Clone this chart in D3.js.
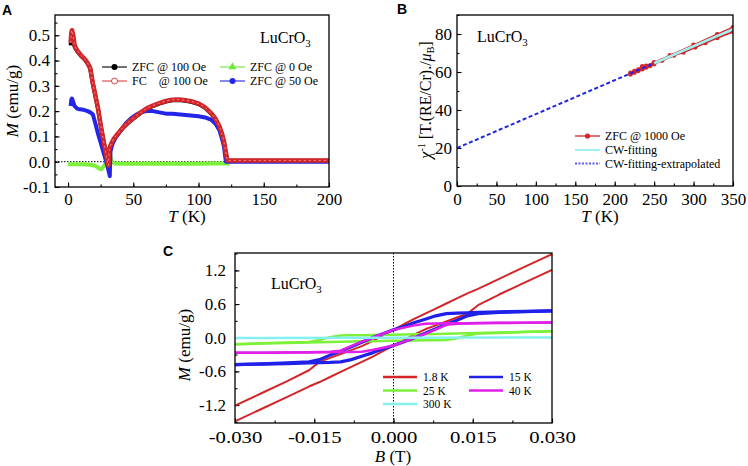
<!DOCTYPE html>
<html><head><meta charset="utf-8">
<script src="https://cdn.jsdelivr.net/npm/d3@7"></script>
<style>
body{margin:0;background:#fff}
svg{display:block}
text{fill:#000}
</style>
</head><body>
<svg id="c" width="748" height="466" font-family="'Liberation Serif','Times New Roman',serif"></svg>
<script>
// ---------- Panel A data (M vs T) ----------
const fcT   = [2,2.5,3,4,5,7,10,13,15,17,19,21,23,25,27,29,30,31,31.5,33,35,38,42,46,50,55,60,65,70,75,80,85,90,95,100,105,110,113,116,118,119.5,120.5,121.5,122,125,140,160,180,200];
const fcM   = [0.47,0.51,0.52,0.50,0.46,0.44,0.42,0.405,0.39,0.37,0.31,0.26,0.21,0.145,0.088,0.035,0.005,-0.015,0.05,0.07,0.09,0.11,0.135,0.155,0.172,0.192,0.21,0.222,0.232,0.24,0.245,0.246,0.243,0.238,0.23,0.215,0.19,0.17,0.14,0.11,0.08,0.05,0.02,0.005,0.005,0.005,0.005,0.005,0.005];
const zfc100M = [0.46,0.50,0.51,0.49,0.455,0.437,0.418,0.403,0.388,0.368,0.308,0.258,0.208,0.143,0.086,0.033,0.003,-0.017,0.048,0.068,0.088,0.108,0.133,0.153,0.17,0.19,0.208,0.22,0.23,0.238,0.243,0.244,0.241,0.236,0.228,0.213,0.188,0.168,0.138,0.108,0.078,0.048,0.018,0.004,0.004,0.004,0.004,0.004,0.004];
const zfc50T = [2,2.5,3,4,5,7,9,12,15,17,19,21,23,25,27,29,31,32,32.5,34,37,40,44,48,52,56,60,65,70,75,80,90,100,105,110,113,116,118,119.5,120.5,121,125,150,175,200];
const zfc50M = [0.22,0.245,0.25,0.235,0.22,0.21,0.207,0.205,0.2,0.195,0.187,0.15,0.11,0.075,0.04,0.005,-0.035,-0.057,0.04,0.07,0.1,0.12,0.15,0.17,0.185,0.195,0.2,0.2,0.195,0.19,0.19,0.185,0.18,0.175,0.165,0.15,0.125,0.09,0.06,0.02,0.0,0.0,0.0,0.0,0.0];
const zfc0T = [0,5,10,15,18,20,22,24,25,26,27,28,29,30,31,32,33,34,36,40,50,60,80,100,110,124];
const zfc0M = [-0.01,-0.01,-0.01,-0.011,-0.013,-0.015,-0.02,-0.027,-0.03,-0.028,-0.02,-0.012,-0.005,0.0,0.02,0.035,0.01,-0.002,-0.007,-0.008,-0.008,-0.007,-0.008,-0.008,-0.007,-0.007];
const aXTicks = [0,50,100,150,200];
const aYTicks = [-0.1,0.0,0.1,0.2,0.3,0.4,0.5];

// ---------- Panel B data (inverse susceptibility) ----------
const zfc1000T = [220,225,230,235,240,245,250,260,275,287,302,315,330,350,350,330,300,270,250,240,235,230,225,220];
const zfc1000V = [58.8,59.7,60.6,61.5,62.4,63.3,64.2,66.0,68.7,70.3,73.0,75.3,78.0,81.2,83.5,79.8,74.2,68.7,65.0,63.2,63.0,61.3,60.4,59.5];
const cwT = [250,350];
const cwV = [64.6,82.5];
const cwExtT = [0,250];
const cwExtV = [20,64.6];
const bXTicks = [0,50,100,150,200,250,300,350];
const bYTicks = [0,20,40,60,80];

// ---------- Panel C data (M vs B loops) ----------
const bDown = [0.030,0.025,0.020,0.016,0.014,0.012,0.010,0.008,0.006,0.004,0.002,0.000,-0.002,-0.004,-0.006,-0.008,-0.010,-0.012,-0.014,-0.016,-0.020,-0.025,-0.030];
const bUp   = [-0.030,-0.025,-0.020,-0.016,-0.014,-0.012,-0.010,-0.008,-0.006,-0.004,-0.002,0.000,0.002,0.004,0.006,0.008,0.010,0.012,0.014,0.016,0.020,0.025,0.030];
const m18Down = [1.49,1.27,1.05,0.87,0.79,0.70,0.61,0.52,0.43,0.34,0.24,0.14,0.04,-0.06,-0.15,-0.22,-0.29,-0.36,-0.43,-0.58,-0.77,-0.99,-1.21];
const m18Up   = [-1.49,-1.27,-1.05,-0.87,-0.79,-0.70,-0.61,-0.52,-0.43,-0.34,-0.24,-0.14,-0.04,0.06,0.15,0.22,0.29,0.36,0.43,0.58,0.77,0.99,1.21];
const m15Down = [0.48,0.47,0.46,0.45,0.445,0.44,0.43,0.39,0.33,0.27,0.20,0.14,0.07,0.0,-0.08,-0.16,-0.24,-0.31,-0.39,-0.43,-0.45,-0.465,-0.48];
const m15Up   = [-0.48,-0.47,-0.46,-0.45,-0.445,-0.44,-0.43,-0.39,-0.33,-0.27,-0.20,-0.14,-0.07,0.0,0.08,0.16,0.24,0.31,0.39,0.43,0.45,0.465,0.48];
const m25Down = [0.115,0.105,0.095,0.085,0.08,0.075,0.07,0.067,0.064,0.061,0.058,0.055,0.052,0.049,0.046,0.043,0.04,0.01,-0.04,-0.075,-0.085,-0.10,-0.115];
const m25Up   = [-0.115,-0.105,-0.095,-0.085,-0.08,-0.075,-0.07,-0.067,-0.064,-0.061,-0.058,-0.055,-0.052,-0.049,-0.046,-0.043,-0.04,-0.01,0.04,0.075,0.085,0.10,0.115];
const m40Down = [0.27,0.268,0.265,0.262,0.26,0.258,0.256,0.254,0.25,0.22,0.18,0.14,0.07,0.0,-0.07,-0.15,-0.23,-0.25,-0.255,-0.258,-0.262,-0.266,-0.27];
const m40Up   = [-0.27,-0.268,-0.265,-0.262,-0.26,-0.258,-0.256,-0.254,-0.25,-0.22,-0.18,-0.14,-0.07,0.0,0.07,0.15,0.23,0.25,0.255,0.258,0.262,0.266,0.27];
const b300 = [-0.030,0.030];
const m300 = [-0.005,0.005];
const cXTicks = [-0.030,-0.015,0.000,0.015,0.030];
const cYTicks = [-1.2,-0.6,0.0,0.6,1.2];

// ---------- drawing ----------
const SERIF = "'Liberation Serif','Times New Roman',serif";
const svg = d3.select("#c");
const hy = f => d => f(d).replace("\u2212","-");

function panel(o){
  const x = d3.scaleLinear().domain(o.xd).range([o.l,o.r]);
  const y = d3.scaleLinear().domain(o.yd).range([o.b,o.t]);
  const g = svg.append("g");
  svg.append("clipPath").attr("id","clip"+o.id).append("rect")
    .attr("x",o.l).attr("y",o.t).attr("width",o.r-o.l).attr("height",o.b-o.t);
  const styleAxis = s => { s.select(".domain").remove(); s.attr("font-family",SERIF).attr("font-size",o.fs);
    s.selectAll("line").attr("stroke","#000").attr("stroke-width",1.1);
    s.selectAll("text").style("font-family",SERIF).attr("font-size",o.fs); };
  g.append("g").attr("transform",`translate(0,${o.b})`)
    .call(d3.axisBottom(x).tickValues(o.xm).tickSize(-2.5).tickFormat("")).call(styleAxis);
  const xa = g.append("g").attr("transform",`translate(0,${o.b})`)
    .call(d3.axisBottom(x).tickValues(o.xt).tickSize(-4.5).tickPadding(o.xpad).tickFormat(o.xf)).call(styleAxis);
  if (o.xstretch) xa.selectAll("text").attr("transform",`scale(${o.xstretch},1)`);
  g.append("g").attr("transform",`translate(${o.l},0)`)
    .call(d3.axisLeft(y).tickValues(o.ym).tickSize(-2.5).tickFormat("")).call(styleAxis);
  g.append("g").attr("transform",`translate(${o.l},0)`)
    .call(d3.axisLeft(y).tickValues(o.yt).tickSize(-4.5).tickPadding(o.ypad).tickFormat(o.yf)).call(styleAxis);
  const plot = svg.append("g").attr("clip-path",`url(#clip${o.id})`);
  return {x,y,plot,frame:()=>svg.append("rect").attr("x",o.l).attr("y",o.t).attr("width",o.r-o.l).attr("height",o.b-o.t)
    .attr("fill","none").attr("stroke","#000").attr("stroke-width",1.3)};
}
function drawLine(P, xs, ys, color, w, dash){
  const pts = xs.map((v,i)=>[v,ys[i]]);
  return P.plot.append("path").datum(pts)
    .attr("d", d3.line().x(d=>P.x(d[0])).y(d=>P.y(d[1])))
    .attr("fill","none").attr("stroke",color).attr("stroke-width",w)
    .attr("stroke-linejoin","round").attr("stroke-dasharray",dash||null);
}
function chemLabel(x,y,fs){
  const t = svg.append("text").attr("x",x).attr("y",y).attr("font-size",fs).text("LuCrO");
  t.append("tspan").attr("dy",4).attr("font-size",fs*0.68).text("3");
}
function letter(x,y,s){
  svg.append("text").attr("x",x).attr("y",y).style("font-family","'Liberation Sans',Arial,sans-serif")
    .attr("font-weight","bold").attr("font-size",14).text(s);
}
function mLabel(x,y,sym,rest){
  const t = svg.append("text").attr("transform",`translate(${x},${y}) rotate(-90)`).attr("text-anchor","middle").attr("font-size",17);
  t.append("tspan").attr("font-style","italic").text(sym);
  t.append("tspan").text(rest);
}
function xLabel(x,y,sym,rest){
  const t = svg.append("text").attr("x",x).attr("y",y).attr("text-anchor","middle").attr("font-size",17);
  t.append("tspan").attr("font-style","italic").text(sym);
  t.append("tspan").text(rest);
}

// ===== Panel A =====
const A = panel({id:"A",l:55,r:329,t:15,b:187,xd:[-10,200],yd:[-0.1,0.58],
  xt:aXTicks,xm:d3.range(0,201,25),yt:aYTicks,ym:d3.range(-0.1,0.56,0.05),
  xf:d3.format("d"),yf:hy(d3.format(".1f")),fs:17,xpad:6,ypad:5});
A.plot.append("line").attr("x1",A.x(-10)).attr("x2",A.x(200)).attr("y1",A.y(0)).attr("y2",A.y(0))
  .attr("stroke","#000").attr("stroke-width",1).attr("stroke-dasharray","1.5,1.5");
drawLine(A, zfc0T, zfc0M, "#7df03a", 4);
drawLine(A, fcT, zfc100M, "#000", 4);
drawLine(A, zfc50T, zfc50M, "#2525e8", 4);
drawLine(A, fcT, fcM, "#d3262a", 4.5);
drawLine(A, fcT, fcM, "#ec8c8c", 1).attr("stroke-dasharray","2,3");
A.frame();
chemLabel(260,43,16);
letter(2,15,"A");
mLabel(18,101,"M"," (emu/g)");
xLabel(187,222,"T"," (K)");
// legend A
const legA = [
  {lab:"ZFC @ 100 Oe",c:"#000",m:"dot",x:102,y:67},
  {lab:"FC    @ 100 Oe",c:"#e04040",m:"open",x:102,y:81},
  {lab:"ZFC @ 0 Oe",c:"#6fe83a",m:"tri",x:220,y:67},
  {lab:"ZFC @ 50 Oe",c:"#2525e8",m:"dot",x:220,y:81}];
legA.forEach(d=>{
  svg.append("line").attr("x1",d.x).attr("x2",d.x+25).attr("y1",d.y).attr("y2",d.y).attr("stroke",d.c).attr("stroke-width",1.1);
  const cx=d.x+12.5;
  if(d.m==="dot") svg.append("circle").attr("cx",cx).attr("cy",d.y).attr("r",3).attr("fill",d.c);
  if(d.m==="open") svg.append("circle").attr("cx",cx).attr("cy",d.y).attr("r",3).attr("fill","#fff").attr("stroke",d.c).attr("stroke-width",1);
  if(d.m==="tri") svg.append("path").attr("d",d3.symbol(d3.symbolTriangle,28)()).attr("transform",`translate(${cx},${d.y})`).attr("fill",d.c);
  svg.append("text").attr("x",d.x+30).attr("y",d.y+4).attr("font-size",12).style("white-space","pre").text(d.lab);
});

// ===== Panel B =====
const B = panel({id:"B",l:457,r:733,t:15,b:186,xd:[0,350],yd:[0,90],
  xt:bXTicks,xm:d3.range(0,351,25),yt:bYTicks,ym:d3.range(0,91,10),
  xf:d3.format("d"),yf:d3.format("d"),fs:17,xpad:7,ypad:5});
drawLine(B, zfc1000T, zfc1000V, "#d3262a", 1.8);
B.plot.selectAll("circle.pb").data(zfc1000T.map((t,i)=>[t,zfc1000V[i]])).join("circle")
  .attr("cx",d=>B.x(d[0])).attr("cy",d=>B.y(d[1])).attr("r",2.4).attr("fill","#d3262a");
drawLine(B, cwT, cwV, "#9ef2f2", 2.5);
drawLine(B, cwExtT, cwExtV, "#2424e6", 2, "4,2.5");
B.frame();
chemLabel(477,42,16);
letter(397,14,"B");
{
  const t = svg.append("text").attr("transform","translate(431,100) rotate(-90)").attr("text-anchor","middle").attr("font-size",16);
  t.append("tspan").attr("font-style","italic").text("χ");
  t.append("tspan").attr("dy",-6).attr("font-size",10).text("-1");
  t.append("tspan").attr("dy",6).text(" [T.(RE/Cr)./");
  t.append("tspan").attr("font-style","italic").text("μ");
  t.append("tspan").attr("dy",3).attr("font-size",10).text("B");
  t.append("tspan").attr("dy",-3).text("]");
}
xLabel(600,222,"T"," (K)");
const legB = [
  {lab:"ZFC @ 1000 Oe",c:"#d3262a",w:1.3,dash:null,dot:true,y:136},
  {lab:"CW-fitting",c:"#9ef2f2",w:2,dash:null,dot:false,y:150},
  {lab:"CW-fitting-extrapolated",c:"#5a5af0",w:2,dash:"2,1.5",dot:false,y:163.5}];
legB.forEach(d=>{
  svg.append("line").attr("x1",575).attr("x2",600).attr("y1",d.y).attr("y2",d.y).attr("stroke",d.c).attr("stroke-width",d.w).attr("stroke-dasharray",d.dash);
  if(d.dot) svg.append("circle").attr("cx",587.5).attr("cy",d.y).attr("r",2.6).attr("fill",d.c);
  svg.append("text").attr("x",605).attr("y",d.y+4).attr("font-size",12).text(d.lab);
});

// ===== Panel C =====
const C = panel({id:"C",l:235,r:552,t:253,b:423,xd:[-0.03,0.03],yd:[-1.52,1.51],
  xt:cXTicks,xm:d3.range(-0.03,0.0301,0.0075),yt:cYTicks,ym:d3.range(-1.5,1.51,0.3),
  xf:hy(d3.format(".3f")),yf:hy(d3.format(".1f")),fs:17,xpad:8,ypad:9,xstretch:1.22});
C.plot.append("line").attr("x1",C.x(0)).attr("x2",C.x(0)).attr("y1",C.y(1.51)).attr("y2",C.y(-1.52))
  .attr("stroke","#000").attr("stroke-width",1).attr("stroke-dasharray","1.5,1.5");
drawLine(C, bDown, m18Down, "#d3262a", 2);
drawLine(C, bUp, m18Up, "#d3262a", 2);
drawLine(C, bDown, m25Down, "#7df03a", 2.5);
drawLine(C, bUp, m25Up, "#7df03a", 2.5);
drawLine(C, bDown, m15Down, "#2020e8", 3.2);
drawLine(C, bUp, m15Up, "#2020e8", 3.2);
drawLine(C, bDown, m40Down, "#e020e8", 2.5);
drawLine(C, bUp, m40Up, "#e020e8", 2.5);
drawLine(C, b300, m300, "#86f0f0", 2.5);
C.frame();
chemLabel(271,289,16);
letter(163,256,"C");
mLabel(190,345,"M"," (emu/g)");
xLabel(393,462,"B"," (T)");
const legC = [
  {lab:"1.8 K",c:"#d3262a",x:383,y:377},
  {lab:"15 K",c:"#2020e8",x:469,y:377},
  {lab:"25 K",c:"#7df03a",x:383,y:390.5},
  {lab:"40 K",c:"#e020e8",x:469,y:390.5},
  {lab:"300 K",c:"#86f0f0",x:383,y:404}];
legC.forEach(d=>{
  svg.append("line").attr("x1",d.x).attr("x2",d.x+34).attr("y1",d.y).attr("y2",d.y).attr("stroke",d.c).attr("stroke-width",2.5);
  svg.append("text").attr("x",d.x+40).attr("y",d.y+4).attr("font-size",11.5).text(d.lab);
});
</script>
</body></html>
